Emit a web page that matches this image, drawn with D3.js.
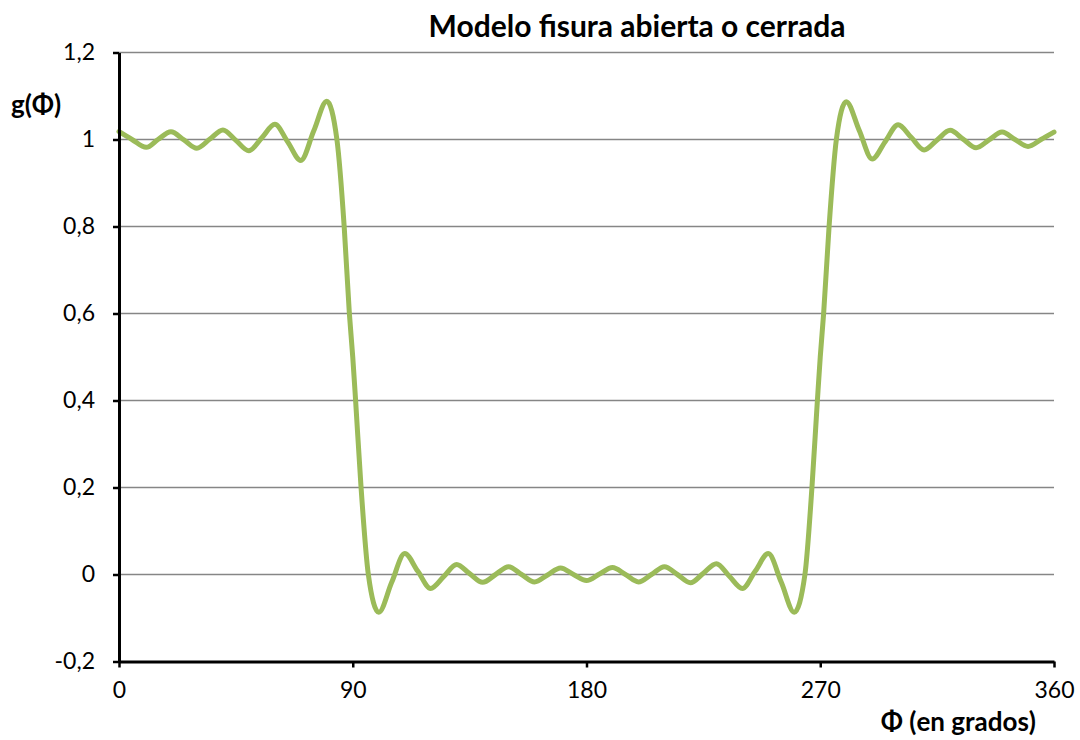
<!DOCTYPE html>
<html lang="es">
<head>
<meta charset="utf-8">
<title>Modelo fisura abierta o cerrada</title>
<script src="https://cdn.jsdelivr.net/npm/d3@7"></script>
<style>
  html, body { margin: 0; padding: 0; background: #ffffff; }
  svg { display: block; font-family: Lato, "Open Sans", "Liberation Sans", sans-serif; }
</style>
</head>
<body>
<svg id="chart" width="1080" height="740"></svg>
<script>
// Ángulo Φ en grados
const phi = [
  0, 5, 10.5, 15, 20, 25, 30, 35, 40, 45, 50, 55, 60, 65, 70, 75, 80,
  83.9, 86.7, 88.7, 90, 91.1, 93.2, 96, 100, 105, 110, 115, 120, 125, 130,
  135, 140, 145, 150, 155, 160, 165, 170, 175, 180, 185, 190, 195, 200,
  205, 210, 215, 220, 225, 230, 235, 240, 245, 250, 255, 260, 264.1,
  266.8, 268.9, 270, 271.3, 273.4, 276.2, 280, 285, 290, 295, 300, 305,
  310, 315, 320, 325, 330, 335, 340, 345, 350, 355, 360
];
// g(Φ) para cada ángulo
const g = [
  1.018, 1.000, 0.982, 1.000, 1.018, 0.999, 0.980, 1.001, 1.022, 0.998,
  0.974, 1.004, 1.035, 0.994, 0.952, 1.020, 1.088,
  1.000, 0.800, 0.600, 0.500, 0.400, 0.200, 0.000, -0.087, -0.018, 0.048,
  0.008, -0.032, -0.005, 0.023, 0.002, -0.018, 0.000, 0.018, 0.000,
  -0.017, -0.001, 0.015, 0.000, -0.014, 0.001, 0.016, 0.000, -0.017,
  0.000, 0.018, 0.000, -0.019, 0.003, 0.025, -0.004, -0.032, 0.008,
  0.048, -0.018, -0.087, 0.000,
  0.200, 0.400, 0.500, 0.600, 0.800, 1.000, 1.087, 1.021, 0.955, 0.995,
  1.034, 1.005, 0.976, 0.999, 1.021, 1.001, 0.981, 0.999, 1.017, 1.000,
  0.984, 1.000, 1.017
];

const xTicks = [0, 90, 180, 270, 360];
const xTickLabels = ["0", "90", "180", "270", "360"];
const yTicks = [-0.2, 0, 0.2, 0.4, 0.6, 0.8, 1, 1.2];
const yTickLabels = ["-0,2", "0", "0,2", "0,4", "0,6", "0,8", "1", "1,2"];

const title = "Modelo fisura abierta o cerrada";
const yTitle = "g(Φ)";
const xTitle = "Φ (en grados)";

const width = 1080, height = 740;
const margin = { top: 52.5, right: 26, bottom: 78.5, left: 119 };
const fontStack = "Lato, 'Open Sans', sans-serif";

const svg = d3.select("#chart");

const x = d3.scaleLinear().domain([0, 360]).range([margin.left, width - margin.right]);
const y = d3.scaleLinear().domain([-0.2, 1.2]).range([height - margin.bottom, margin.top]);

// Líneas horizontales de la cuadrícula
svg.append("g")
  .selectAll("line")
  .data(yTicks.filter(v => v > -0.2))
  .join("line")
  .attr("x1", x(0))
  .attr("x2", x(360))
  .attr("y1", d => y(d))
  .attr("y2", d => y(d))
  .attr("stroke", "#868686")
  .attr("stroke-width", 1.5);

// Curva g(Φ)
const points = phi.map((p, i) => [p, g[i]]);
const line = d3.line()
  .x(d => x(d[0]))
  .y(d => y(d[1]))
  .curve(d3.curveMonotoneX);

svg.append("path")
  .datum(points)
  .attr("d", line)
  .attr("fill", "none")
  .attr("stroke", "#9BBB59")
  .attr("stroke-width", 5)
  .attr("stroke-linejoin", "round")
  .attr("stroke-linecap", "round");

// Eje Y
const yAxis = d3.axisLeft(y)
  .tickValues(yTicks)
  .tickFormat((d, i) => yTickLabels[i])
  .tickSizeInner(6)
  .tickSizeOuter(0)
  .tickPadding(18);

const gy = svg.append("g")
  .attr("transform", `translate(${x(0)},0)`)
  .call(yAxis);
gy.select(".domain").attr("stroke", "#000").attr("stroke-width", 3);
gy.selectAll(".tick line").attr("stroke", "#000").attr("stroke-width", 2.5);
gy.selectAll(".tick text")
  .attr("font-size", 23)
  .attr("fill", "#000")
  .style("font-family", fontStack);

// Eje X
const xAxis = d3.axisBottom(x)
  .tickValues(xTicks)
  .tickFormat((d, i) => xTickLabels[i])
  .tickSizeInner(6)
  .tickSizeOuter(0)
  .tickPadding(14);

const gx = svg.append("g")
  .attr("transform", `translate(0,${y(-0.2)})`)
  .call(xAxis);
gx.select(".domain").attr("stroke", "#000").attr("stroke-width", 3);
gx.selectAll(".tick line").attr("stroke", "#000").attr("stroke-width", 2.5);
gx.selectAll(".tick text")
  .attr("font-size", 23)
  .attr("fill", "#000")
  .style("font-family", fontStack);

// Títulos
svg.append("text")
  .attr("x", 637)
  .attr("y", 37)
  .attr("text-anchor", "middle")
  .attr("font-size", 30)
  .attr("font-weight", "bold")
  .attr("fill", "#000")
  .text(title);

svg.append("text")
  .attr("x", 11)
  .attr("y", 114)
  .attr("font-size", 26)
  .attr("font-weight", "bold")
  .attr("fill", "#000")
  .text(yTitle);

svg.append("text")
  .attr("x", 1036)
  .attr("y", 731)
  .attr("text-anchor", "end")
  .attr("font-size", 26)
  .attr("font-weight", "bold")
  .attr("fill", "#000")
  .text(xTitle);
</script>
</body>
</html>
